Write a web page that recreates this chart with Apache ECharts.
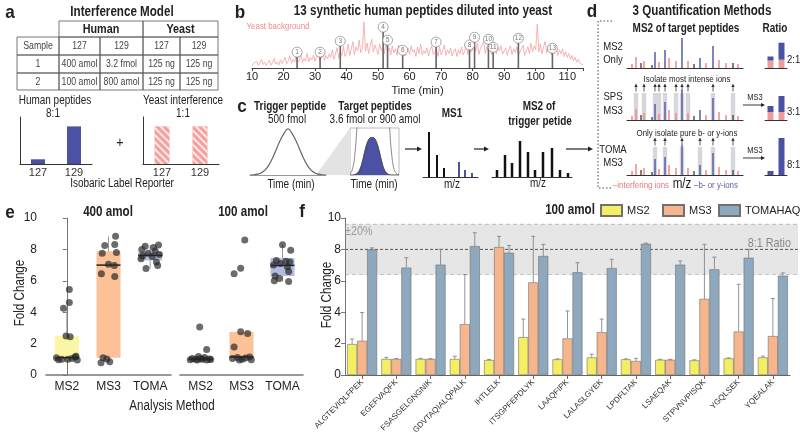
<!DOCTYPE html>
<html>
<head>
<meta charset="utf-8">
<script src="https://cdn.jsdelivr.net/npm/echarts@6.0.0/dist/echarts.min.js"></script>
<style>html,body{margin:0;padding:0;background:#fff;}#chart{width:800px;height:435px;}</style>
</head>
<body>
<div id="chart"></div>
<script>
// ================= DATA =================
// --- panel a ---
const tableHeader = ['Sample', '127', '129', '127', '129'];
const tableRow1 = ['1', '400 amol', '3.2 fmol', '125 ng', '125 ng'];
const tableRow2 = ['2', '100 amol', '800 amol', '125 ng', '125 ng'];
const reporterLabels = ['127', '129'];
const humanRatio = [1, 8];
const yeastRatio = [1, 1];

// --- panel b ---
const bgStart = 10, bgStep = 0.5;
const yeastBackground = [
  0.04,0.10,0.06,0.14,0.05,0.08,0.18,0.07,0.12,0.05,
  0.09,0.16,0.06,0.11,0.20,0.08,0.13,0.06,0.17,0.09,
  0.12,0.22,0.09,0.15,0.26,0.10,0.18,0.12,0.24,0.11,
  0.16,0.28,0.12,0.20,0.14,0.30,0.13,0.22,0.17,0.27,
  0.14,0.24,0.32,0.15,0.21,0.35,0.16,0.26,0.19,0.30,
  0.22,0.38,0.18,0.30,0.42,0.20,0.34,0.26,0.45,0.24,
  0.30,0.50,0.26,0.40,0.55,0.28,0.44,0.36,0.58,0.32,
  0.40,0.96,0.35,0.52,0.30,0.46,0.60,0.33,0.48,0.38,
  0.28,0.50,0.36,0.44,0.30,0.55,0.34,0.42,0.27,0.46,
  0.32,0.40,0.26,0.48,0.30,0.38,0.44,0.25,0.36,0.42,
  0.28,0.46,0.33,0.38,0.24,0.44,0.30,0.50,0.27,0.36,
  0.30,0.42,0.25,0.38,0.46,0.28,0.34,0.40,0.24,0.44,
  0.27,0.36,0.48,0.26,0.38,0.30,0.42,0.25,0.34,0.40,
  0.24,0.38,0.30,0.44,0.27,0.36,0.50,0.28,0.40,0.33,
  0.30,0.46,0.35,0.52,0.28,0.42,0.38,0.55,0.30,0.44,
  0.34,0.48,0.28,0.40,0.52,0.30,0.44,0.36,0.47,0.29,
  0.33,0.42,0.26,0.38,0.46,0.28,0.40,0.32,0.44,0.27,
  0.30,0.40,0.48,0.26,0.36,0.44,0.30,0.52,0.34,0.46,
  0.38,0.92,0.34,0.50,0.30,0.44,0.56,0.32,0.46,0.36,
  0.28,0.42,0.34,0.46,0.26,0.38,0.30,0.40,0.24,0.34,
  0.22,0.30,0.18,0.26,0.15,0.22,0.12,0.18,0.10,0.14,
  0.06
];
const peakTimes   = [24.3, 31.6, 38.0, 51.6, 53.0, 57.8, 68.4, 79.0, 80.6, 85.0, 86.5, 94.5, 105.3];
const peakHeights = [0.23, 0.23, 0.46, 0.75, 0.48, 0.27, 0.44, 0.38, 0.54, 0.50, 0.33, 0.52, 0.31];
const peakCircleLift = 0.1;

// --- panel c ---
const triggerShape = [0,0.005,0.02,0.05,0.11,0.22,0.38,0.57,0.76,0.91,1,0.91,0.76,0.57,0.38,0.22,0.11,0.05,0.02,0.005,0];
const targetShape  = [0,0,0.01,0.04,0.12,0.28,0.5,0.68,0.78,0.8,0.78,0.68,0.5,0.28,0.12,0.04,0.01,0,0,0,0];
const triggerZoomShape = [0.02,0.12,0.45,1.1,1.6,1.6,1.6,1.6,1.6,1.6,1.6,1.6,1.6,1.6,1.6,1.6,1.1,0.45,0.12,0.03,0];
const ms1Pos    = [6, 14, 21, 36, 42, 49];
const ms1Height = [45, 22, 9, 15, 7, 4];
const ms1Heavy  = [0, 0, 0, 1, 1, 1];
const ms2TrigPos    = [5, 13, 20, 28, 36, 43, 51, 60, 68, 76];
const ms2TrigHeight = [7, 22, 14, 36, 25, 7, 25, 29, 7, 4];

// --- panel d ---
const specPos    = [5, 9, 14, 17, 25, 28, 32, 38, 42, 49, 55, 61, 67, 73, 79, 86, 92, 99, 106, 111];
const specHeight = [4, 11, 5, 7, 3, 16, 6, 18, 10, 7, 30, 7, 4, 10, 5, 22, 8, 5, 5, 4];
const specType   = ['i','i','n','i','n','b','i','b','i','i','b','i','n','b','i','b','i','i','n','i'];
const spsWindows  = [9, 17, 28, 32, 38, 49, 55, 61, 86, 106];
const tomaWindows = [28, 38, 55, 73, 86, 106];
const ratioLabels = ['127', '129'];
const ratioMS2Yeast  = [7.5, 8.3];
const ratioMS2Human  = [4, 17];
const ratioSPSYeast  = [8, 8];
const ratioSPSHuman  = [6, 16];
const ratioTOMAYeast = [0, 0];
const ratioTOMAHuman = [4, 37];
const ratioText = ['2:1', '3:1', '8:1'];

// --- panel e ---
const methods = ['MS2', 'MS3', 'TOMA'];
const e400MS2  = [5.44, 4.62, 4.25, 2.48, 2.43, 1.15, 1.1, 1.05, 1.0, 1.0, 0.97, 0.95, 1.2];
const e400MS3  = [8.83, 8.32, 8.25, 7.8, 7.75, 7.05, 6.98, 6.45, 6.28, 1.1, 1.02, 0.78, 0.85];
const e400TOMA = [8.28, 8.2, 8.12, 8.0, 7.9, 7.75, 7.68, 7.6, 7.55, 7.4, 7.2, 6.98, 6.78];
const e100MS2  = [3.05, 1.62, 1.18, 1.12, 1.05, 1.02, 1.0, 1.0, 0.98, 0.97, 0.96, 0.95, 1.03];
const e100MS3  = [8.6, 6.8, 6.45, 2.75, 2.65, 1.78, 1.15, 1.12, 1.08, 1.05, 1.0, 0.97, 0.95];
const e100TOMA = [8.3, 7.95, 7.3, 7.25, 7.2, 7.1, 7.0, 6.9, 6.6, 6.3, 6.15, 6.0, 5.95];
const j400MS2  = [0.06, 0.06, -0.08, -0.02, 0.08, 0.2, -0.25, 0.12, -0.12, 0.02, -0.2, 0.25, 0.22];
const j400MS3  = [0.17, 0.15, -0.09, 0.19, -0.15, 0.0, 0.14, -0.17, 0.15, -0.13, -0.04, -0.18, 0.03];
const j400TOMA = [0.2, -0.12, 0.08, -0.2, 0.12, -0.05, 0.22, -0.18, 0.05, -0.22, 0.15, 0.18, -0.1];
const j100MS2  = [-0.02, 0.15, -0.05, 0.1, -0.2, 0.22, -0.12, 0.05, 0.25, -0.25, 0.15, -0.08, 0.0];
const j100MS3  = [0.08, -0.02, -0.18, -0.02, 0.15, -0.18, 0.2, -0.1, 0.1, -0.22, 0.02, 0.24, -0.05];
const j100TOMA = [0.0, 0.2, -0.15, 0.08, 0.18, -0.05, -0.22, 0.12, 0.15, -0.18, -0.08, -0.2, 0.15];
// [lower whisker, q1, median, q3, upper whisker]
const e400Box = [[0.95,0.95,1.1,2.5,4.25],[0.78,1.1,7.0,7.88,8.83],[6.78,7.3,7.62,7.85,8.28]];
const e100Box = [[0.95,0.97,1.0,1.05,1.18],[0.95,1.08,1.15,2.75,2.75],[5.95,6.3,6.98,7.45,8.3]];

// --- panel f ---
const peptides = ['ALGTEVIQLFPEK','EGEFVAQFK','FSASGELGNGNIK','GDVTAQIALQPALK','IHTLELK','ITSGPFEPDLYK','LAAQFIPK','LALASLGYEK','LPDFLTAK','LSAEQAK','STPVNVPISQK','YGQLSEK','YQEALAK'];
const fMS2   = [1.97, 1.02, 1.02, 1.02, 0.95, 2.41, 1.00, 1.12, 1.00, 0.97, 0.93, 1.06, 1.12];
const fMS2sd = [0.32, 0.10, 0.04, 0.18, 0.04, 1.15, 0.03, 0.21, 0.03, 0.03, 0.04, 0.03, 0.08];
const fMS3   = [2.18, 1.02, 1.02, 3.24, 8.15, 5.90, 2.33, 2.73, 0.89, 0.97, 4.85, 2.77, 2.48];
const fMS3sd = [1.80, 0.03, 0.02, 3.15, 0.68, 2.93, 1.75, 0.83, 0.17, 0.03, 3.47, 3.01, 2.39];
const fTOMA   = [8.00, 6.84, 7.03, 8.21, 7.79, 7.58, 6.54, 6.81, 8.36, 7.03, 6.73, 7.47, 6.33];
const fTOMAsd = [0.10, 0.63, 0.97, 0.85, 0.46, 0.74, 0.61, 0.56, 0.04, 0.23, 0.78, 0.53, 0.17];
const fSeriesNames = ['MS2', 'MS3', 'TOMAHAQ'];
const targetRatio = 8, tolerance = 0.2;
const yTicks = {min: 0, max: 10, interval: 2};

// ================= STYLE =================
const FONT = "'Liberation Sans', Arial, sans-serif";
const SX = 0.83;
const BLUE = '#4b51a3', PINK = '#f2a0a0';
const C_RED = '#ec8a8a', C_BIONS = '#5a5cab', C_DARK = '#555';
const F_COL = ['#f4ee62', '#f6b68d', '#8ea8be'];
const E_COL = ['#fbf6a6', '#fcc197', '#b3bde0'];

// ================= GRAPHIC HELPERS =================
const G = [];
function txt(x, y, text, size, o = {}) {
  G.push({
    type: 'text', x, y, scaleX: (o.sx === undefined ? SX : o.sx), rotation: o.rot || 0, z: 100,
    style: {
      x: 0, y: 0, text,
      font: (o.bold ? 'bold ' : '') + size + 'px ' + FONT,
      fill: o.color || '#222',
      align: o.align || 'center', textAlign: o.align || 'center',
      verticalAlign: 'middle', textVerticalAlign: 'middle'
    }
  });
}
function arrow(x1, y1, x2, y2, color, head, lw) {
  color = color || '#222'; head = head || 5; lw = lw || 1.2;
  const ang = Math.atan2(y2 - y1, x2 - x1);
  const hx = x2 - head * Math.cos(ang), hy = y2 - head * Math.sin(ang);
  const px = -Math.sin(ang) * head * 0.5, py = Math.cos(ang) * head * 0.5;
  G.push({type: 'line', z: 50, shape: {x1, y1, x2: hx, y2: hy}, style: {stroke: color, lineWidth: lw}});
  G.push({type: 'polygon', z: 50, shape: {points: [[x2, y2], [hx + px, hy + py], [hx - px, hy - py]]}, style: {fill: color}});
}

// ---- panel letters & titles ----
[['a', 10, 13], ['b', 240, 13], ['c', 242, 107], ['d', 592, 12], ['e', 10, 213], ['f', 302, 212]]
  .forEach(([t, x, y]) => txt(x, y, t, 19, {bold: true, sx: 0.9}));
txt(122, 12, 'Interference Model', 14, {bold: true});
txt(423, 11, '13 synthetic human peptides diluted into yeast', 14, {bold: true});
txt(702, 11, '3 Quantification Methods', 14, {bold: true});

// ---- panel a table ----
const colX = [17, 59, 100, 143, 180, 218];
const rowY = [21, 37, 55, 73, 90];
const cellStroke = '#555';
G.push({type: 'rect', z: 40, shape: {x: colX[1], y: rowY[0], width: colX[3] - colX[1], height: rowY[1] - rowY[0]}, style: {fill: null, stroke: cellStroke, lineWidth: 0.8}});
G.push({type: 'rect', z: 40, shape: {x: colX[3], y: rowY[0], width: colX[5] - colX[3], height: rowY[1] - rowY[0]}, style: {fill: null, stroke: cellStroke, lineWidth: 0.8}});
txt((colX[1] + colX[3]) / 2, (rowY[0] + rowY[1]) / 2 + 0.5, 'Human', 13, {bold: true});
txt((colX[3] + colX[5]) / 2, (rowY[0] + rowY[1]) / 2 + 0.5, 'Yeast', 13, {bold: true});
[tableHeader, tableRow1, tableRow2].forEach((row, r) => {
  row.forEach((cell, c) => {
    G.push({type: 'rect', z: 40, shape: {x: colX[c], y: rowY[r + 1], width: colX[c + 1] - colX[c], height: rowY[r + 2] - rowY[r + 1]}, style: {fill: null, stroke: cellStroke, lineWidth: 0.8}});
    txt((colX[c] + colX[c + 1]) / 2, (rowY[r + 1] + rowY[r + 2]) / 2 + 0.5, cell, 10.5, {color: '#444'});
  });
});
txt(55, 101, 'Human peptides', 12);
txt(53, 114, '8:1', 12);
txt(183, 101, 'Yeast interference', 12);
txt(183, 114, '1:1', 12);
txt(120, 143, '+', 15);
txt(122, 184, 'Isobaric Label Reporter', 12);

// ---- panel b ----
txt(278, 26, 'Yeast background', 9.5, {color: '#f08a8a'});

// ---- panel c ----
txt(290, 107, 'Trigger peptide', 12, {bold: true});
txt(287, 120, '500 fmol', 12);
txt(375, 107, 'Target peptides', 12, {bold: true});
txt(375, 120, '3.6 fmol or 900 amol', 12);
txt(452, 114, 'MS1', 12, {bold: true});
txt(539, 107, 'MS2 of', 12, {bold: true});
txt(540, 122, 'trigger petide', 12, {bold: true});
txt(291, 185, 'Time (min)', 12);
txt(374, 185, 'Time (min)', 12);
txt(452, 185, 'm/z', 12);
txt(538, 184, 'm/z', 12);
G.push({type: 'polygon', z: 5, shape: {points: [[316, 175], [350, 128], [350, 175]]}, style: {fill: '#e3e3e3'}});
arrow(405, 149, 422, 149);
arrow(474, 149, 489, 149);
arrow(566, 149, 593, 149);

// ---- panel d ----
G.push({type: 'polyline', z: 50, shape: {points: [[612, 21], [598, 21], [598, 188], [612, 188]]}, style: {stroke: '#444', lineWidth: 1, lineDash: [1.5, 2], fill: null}});
txt(686, 29, 'MS2 of target peptides', 12, {bold: true});
txt(775, 29, 'Ratio', 12, {bold: true});
txt(613, 47, 'MS2', 11.5); txt(613, 60, 'Only', 11.5);
txt(613, 97, 'SPS', 11.5); txt(613, 111, 'MS3', 11.5);
txt(613, 150, 'TOMA', 11.5); txt(613, 163, 'MS3', 11.5);
txt(687, 79, 'Isolate most intense ions', 9.5);
txt(687, 133, 'Only isolate pure b- or y-ions', 9.5);
txt(641, 185, '–interfering ions', 9.5, {color: '#e87878'});
txt(682, 184, 'm/z', 14);
txt(716, 185, '–b- or y-ions', 9.5, {color: C_BIONS});
txt(755, 98, 'MS3', 9);
arrow(743, 105, 765, 105, '#222', 4, 0.9);
txt(755, 151, 'MS3', 9);
arrow(743, 158, 765, 158, '#222', 4, 0.9);
txt(787, 60, ratioText[0], 11.5, {align: 'left'});
txt(787, 112, ratioText[1], 11.5, {align: 'left'});
txt(787, 165, ratioText[2], 11.5, {align: 'left'});

// ---- panel e/f ----
txt(108, 212, '400 amol', 14, {bold: true});
txt(243, 212, '100 amol', 14, {bold: true});
txt(570, 210, '100 amol', 14, {bold: true});
txt(20, 293, 'Fold Change', 14, {rot: Math.PI / 2});
txt(327, 295, 'Fold Change', 14, {rot: Math.PI / 2});
txt(172, 406, 'Analysis Method', 14);
txt(345, 231, '±20%', 13, {color: '#9a9a9a', align: 'left'});
txt(791, 243, '8:1 Ratio', 13, {color: '#888', align: 'right'});

// ================= GRIDS & AXES =================
const grids = [
  {left: 20, top: 117, width: 72, height: 47},   // 0 a human
  {left: 143, top: 117, width: 76, height: 47},  // 1 a yeast
  {left: 252, top: 20, width: 331, height: 48},  // 2 b
  {left: 250, top: 128, width: 76, height: 47},  // 3 c trigger
  {left: 350, top: 128, width: 49, height: 47, show: true, borderColor: '#bbb', borderWidth: 1}, // 4 c target
  {left: 423, top: 128, width: 55, height: 49},  // 5 c ms1
  {left: 492, top: 128, width: 80, height: 49},  // 6 c ms2 trigger
  {left: 627, top: 28, width: 116, height: 40},  // 7 d row1
  {left: 627, top: 80, width: 116, height: 40},  // 8 d row2
  {left: 627, top: 135, width: 116, height: 40}, // 9 d row3
  {left: 765, top: 28, width: 22, height: 40},   // 10 ratio1
  {left: 765, top: 80, width: 22, height: 40},   // 11 ratio2
  {left: 765, top: 135, width: 22, height: 40},  // 12 ratio3
  {left: 46, top: 218, width: 125, height: 157}, // 13 e left
  {left: 180, top: 218, width: 123, height: 157},// 14 e right
  {left: 345, top: 218, width: 445, height: 157} // 15 f
].map(g => Object.assign({containLabel: false, outerBoundsMode: 'none'}, g));

function baseX(gi, min, max, color) {
  return {gridIndex: gi, type: 'value', min, max, axisLine: {show: true, onZero: false, lineStyle: {color: color || '#333', width: 1}},
    axisTick: {show: false}, axisLabel: {show: false}, splitLine: {show: false}};
}
function hidX(gi, min, max) { return {gridIndex: gi, type: 'value', min, max, show: false}; }
function hidY(gi, min, max) { return {gridIndex: gi, type: 'value', min, max, show: false}; }
function catX(gi, data, labels) {
  return {gridIndex: gi, type: 'category', data, axisLine: {lineStyle: {color: '#333'}}, axisTick: {show: false},
    axisLabel: labels ? {fontSize: 11, margin: 3, color: '#333', fontFamily: FONT, interval: 0} : {show: false}, splitLine: {show: false}};
}
function leftY(gi, max) {
  return {gridIndex: gi, type: 'value', min: 0, max, axisLine: {show: true, lineStyle: {color: '#333'}}, axisTick: {show: false},
    axisLabel: {show: false}, splitLine: {show: false}};
}
const eX = gi => ({gridIndex: gi, type: 'category', data: methods,
  axisLine: {lineStyle: {color: '#777', width: 1.5}}, axisTick: {show: false},
  axisLabel: {fontSize: 12, color: '#222', margin: 6, fontFamily: FONT, interval: 0}, splitLine: {show: false}});
const valY = (gi, extra) => Object.assign({gridIndex: gi, type: 'value', min: yTicks.min, max: yTicks.max, interval: yTicks.interval,
  axisLine: {show: true, lineStyle: {color: '#777', width: 1}}, axisTick: {show: true, length: 4, lineStyle: {color: '#777'}},
  axisLabel: {fontSize: 12, color: '#222', margin: 4, fontFamily: FONT}, splitLine: {show: false}}, extra || {});

const xAxes = [
  catX(0, reporterLabels, true),
  catX(1, reporterLabels, true),
  {gridIndex: 2, type: 'value', min: 10, max: 115, interval: 10,
    axisLine: {show: true, lineStyle: {color: '#444'}}, axisTick: {show: true, length: 3, lineStyle: {color: '#444'}},
    axisLabel: {fontSize: 11, color: '#222', margin: 3, fontFamily: FONT, formatter: v => (v % 10 === 0 ? String(v) : '')},
    splitLine: {show: false}, name: 'Time (min)', nameLocation: 'middle', nameGap: 17,
    nameTextStyle: {fontSize: 11, color: '#222', fontFamily: FONT}},
  baseX(3, 0, 20, '#999'),
  hidX(4, 0, 20),
  baseX(5, 0, 55),
  baseX(6, 0, 80),
  baseX(7, 0, 116),
  baseX(8, 0, 116),
  baseX(9, 0, 116),
  catX(10, ratioLabels, false),
  catX(11, ratioLabels, false),
  catX(12, ratioLabels, false),
  eX(13),
  eX(14),
  {gridIndex: 15, type: 'category', data: peptides,
    axisLine: {lineStyle: {color: '#666', width: 1.2}}, axisTick: {show: true, alignWithLabel: true, length: 4, lineStyle: {color: '#666'}},
    axisLabel: {interval: 0, rotate: 45, fontSize: 8, color: '#333', margin: 6, fontFamily: FONT}, splitLine: {show: false}},
  hidX(13, -0.5, 2.5),
  hidX(14, -0.5, 2.5)
];
const yAxes = [
  leftY(0, 10),
  leftY(1, 1.25),
  hidY(2, 0, 1),
  hidY(3, 0, 1.02),
  hidY(4, 0, 1),
  hidY(5, 0, 49),
  hidY(6, 0, 49),
  hidY(7, 0, 40),
  hidY(8, 0, 40),
  hidY(9, 0, 40),
  hidY(10, 0, 40),
  hidY(11, 0, 40),
  hidY(12, 0, 40),
  valY(13, {offset: 5}),
  hidY(14, 0, 10),
  valY(15)
];

// ================= SERIES =================
const S = [];
// a
S.push({type: 'bar', xAxisIndex: 0, yAxisIndex: 0, data: humanRatio, barWidth: 14, itemStyle: {color: BLUE}});
S.push({type: 'bar', xAxisIndex: 1, yAxisIndex: 1, data: yeastRatio, barWidth: 15,
  itemStyle: {color: PINK, decal: {symbol: 'rect', symbolSize: 1, color: 'rgba(255,255,255,0.75)', dashArrayX: [1, 0], dashArrayY: [2, 3], rotation: Math.PI / 4}}});
// b
S.push({type: 'line', xAxisIndex: 2, yAxisIndex: 2, data: yeastBackground.map((v, i) => [bgStart + i * bgStep, v]),
  symbol: 'none', lineStyle: {color: '#f3a3a3', width: 0.8}, z: 1, silent: true});
S.push({type: 'bar', xAxisIndex: 2, yAxisIndex: 2, data: peakTimes.map((t, i) => [t, peakHeights[i]]), barWidth: 1.6,
  itemStyle: {color: '#666'}, z: 3});
S.push({type: 'scatter', xAxisIndex: 2, yAxisIndex: 2, data: peakTimes.map((t, i) => [t, peakHeights[i] + peakCircleLift]),
  symbol: 'circle', symbolSize: 10, itemStyle: {color: '#fff', borderColor: '#777', borderWidth: 0.8}, z: 4,
  label: {show: true, position: 'inside', formatter: p => String(p.dataIndex + 1), fontSize: 6.5, color: '#555'}});
// c
S.push({type: 'line', xAxisIndex: 3, yAxisIndex: 3, data: triggerShape.map((v, i) => [i, v]), smooth: true, symbol: 'none',
  lineStyle: {color: '#666', width: 1.2}, z: 6});
S.push({type: 'line', xAxisIndex: 4, yAxisIndex: 4, data: triggerZoomShape.map((v, i) => [i, v]), smooth: true, symbol: 'none',
  lineStyle: {color: '#888', width: 1}, clip: true});
S.push({type: 'line', xAxisIndex: 4, yAxisIndex: 4, data: targetShape.map((v, i) => [i, v]), smooth: true, symbol: 'none',
  lineStyle: {color: '#333', width: 0.8}, areaStyle: {color: BLUE, opacity: 1}});
S.push({type: 'bar', xAxisIndex: 5, yAxisIndex: 5, barWidth: 2,
  data: ms1Pos.map((p, i) => ({value: [p, ms1Height[i]], itemStyle: {color: ms1Heavy[i] ? BLUE : '#111'}}))});
S.push({type: 'bar', xAxisIndex: 6, yAxisIndex: 6, barWidth: 2.5, itemStyle: {color: '#111'},
  data: ms2TrigPos.map((p, i) => [p, ms2TrigHeight[i]])});
// d windows
function windowRender(params, api) {
  const base = api.coord([api.value(0), 0]);
  const top = api.coord([api.value(0), api.value(1)]);
  const x = base[0], t = top[1];
  return {type: 'group', children: [
    {type: 'rect', shape: {x: x - 2.2, y: t, width: 4.4, height: base[1] - t}, style: {fill: '#d6d6dc'}},
    {type: 'line', shape: {x1: x, y1: t - 1.5, x2: x, y2: t - 7}, style: {stroke: '#333', lineWidth: 0.8}},
    {type: 'polygon', shape: {points: [[x, t - 9.5], [x - 1.7, t - 6], [x + 1.7, t - 6]]}, style: {fill: '#333'}}
  ]};
}
S.push({type: 'custom', xAxisIndex: 8, yAxisIndex: 8, data: spsWindows.map(p => [p, 27]), encode: {x: 0, y: 1}, renderItem: windowRender, z: 1, clip: false});
S.push({type: 'custom', xAxisIndex: 9, yAxisIndex: 9, data: tomaWindows.map(p => [p, 28]), encode: {x: 0, y: 1}, renderItem: windowRender, z: 1, clip: false});
const specColor = {i: C_RED, b: C_BIONS, n: C_DARK};
[7, 8, 9].forEach(gi => {
  S.push({type: 'bar', xAxisIndex: gi, yAxisIndex: gi, barWidth: 1.5, z: 3,
    data: specPos.map((p, i) => ({value: [p, specHeight[i]], itemStyle: {color: specColor[specType[i]]}}))});
});
[[10, ratioMS2Yeast, ratioMS2Human], [11, ratioSPSYeast, ratioSPSHuman], [12, ratioTOMAYeast, ratioTOMAHuman]].forEach(([gi, y, h]) => {
  S.push({type: 'bar', xAxisIndex: gi, yAxisIndex: gi, stack: 'r' + gi, barWidth: 6, data: y, itemStyle: {color: '#ef9b9b'}});
  S.push({type: 'bar', xAxisIndex: gi, yAxisIndex: gi, stack: 'r' + gi, barWidth: 6, data: h, itemStyle: {color: BLUE}});
});
// e
function boxRender(params, api) {
  const i = api.value(0);
  const x = api.coord([i, 0])[0];
  const hw = 12;
  const y = v => api.coord([i, v])[1];
  const lo = y(api.value(1)), q1 = y(api.value(2)), md = y(api.value(3)), q3 = y(api.value(4)), hi = y(api.value(5));
  return {type: 'group', children: [
    {type: 'line', shape: {x1: x, y1: lo, x2: x, y2: hi}, style: {stroke: '#999', lineWidth: 1}},
    {type: 'rect', shape: {x: x - hw, y: q3, width: 2 * hw, height: Math.max(q1 - q3, 1)}, style: {fill: E_COL[i]}},
    {type: 'line', shape: {x1: x - hw, y1: md, x2: x + hw, y2: md}, style: {stroke: '#222', lineWidth: 1.5}}
  ]};
}
[[13, e400Box], [14, e100Box]].forEach(([gi, box]) => {
  S.push({type: 'custom', xAxisIndex: gi, yAxisIndex: gi, renderItem: boxRender, z: 2,
    encode: {x: 0, y: [1, 2, 3, 4, 5]}, data: box.map((b, i) => [i].concat(b))});
});
function pts(vals, jit, idx) { return vals.map((v, k) => [idx + jit[k], v]); }
[[16, 13, [[e400MS2, j400MS2], [e400MS3, j400MS3], [e400TOMA, j400TOMA]]],
 [17, 14, [[e100MS2, j100MS2], [e100MS3, j100MS3], [e100TOMA, j100TOMA]]]].forEach(([xi, yi, groups]) => {
  const data = [];
  groups.forEach((g, idx) => data.push(...pts(g[0], g[1], idx)));
  S.push({type: 'scatter', xAxisIndex: xi, yAxisIndex: yi, data, symbolSize: 7, z: 5,
    itemStyle: {color: 'rgba(38,38,38,0.85)'}});
});
// f band
S.push({type: 'custom', xAxisIndex: 15, yAxisIndex: 15, z: 0, clip: false, silent: true,
  encode: {x: 0, y: [1, 2, 3]},
  data: [[0, targetRatio, targetRatio * (1 - tolerance), targetRatio * (1 + tolerance)]],
  renderItem: (params, api) => {
    const cs = params.coordSys;
    const yMid = api.coord([0, api.value(1)])[1];
    const yLo = api.coord([0, api.value(2)])[1];
    const yHi = api.coord([0, api.value(3)])[1];
    const x0 = cs.x, x1 = cs.x + cs.width + 8;
    return {type: 'group', children: [
      {type: 'rect', shape: {x: x0, y: yHi, width: x1 - x0, height: yLo - yHi}, style: {fill: '#e6e6e6'}},
      {type: 'line', shape: {x1: x0, y1: yHi, x2: x1, y2: yHi}, style: {stroke: '#c4c4c4', lineWidth: 1.2, lineDash: [4, 3]}},
      {type: 'line', shape: {x1: x0, y1: yLo, x2: x1, y2: yLo}, style: {stroke: '#c4c4c4', lineWidth: 1.2, lineDash: [4, 3]}},
      {type: 'line', shape: {x1: x0, y1: yMid, x2: x1, y2: yMid}, style: {stroke: '#555', lineWidth: 1, lineDash: [3, 2]}}
    ]};
  }});
// f bars
[fMS2, fMS3, fTOMA].forEach((vals, k) => {
  S.push({type: 'bar', name: fSeriesNames[k], xAxisIndex: 15, yAxisIndex: 15, data: vals, barWidth: 10, barGap: '0%', z: 2,
    itemStyle: {color: F_COL[k], borderColor: '#707070', borderWidth: 0.6}});
});
function errRender(offset) {
  return (params, api) => {
    const i = api.value(0);
    const p0 = api.coord([i, api.value(1)]);
    const p1 = api.coord([i, api.value(2)]);
    const x = p0[0] + offset;
    return {type: 'group', children: [
      {type: 'line', shape: {x1: x, y1: p0[1], x2: x, y2: p1[1]}, style: {stroke: '#7a7a7a', lineWidth: 0.8}},
      {type: 'line', shape: {x1: x - 2, y1: p1[1], x2: x + 2, y2: p1[1]}, style: {stroke: '#7a7a7a', lineWidth: 0.8}}
    ]};
  };
}
[[fMS2, fMS2sd, -10], [fMS3, fMS3sd, 0], [fTOMA, fTOMAsd, 10]].forEach(([m, sd, off]) => {
  S.push({type: 'custom', xAxisIndex: 15, yAxisIndex: 15, z: 3, clip: false, encode: {x: 0, y: [1, 2]},
    data: m.map((v, i) => [i, v, v + sd[i]]), renderItem: errRender(off)});
});

const legendLeft = [600, 662, 718];
const legends = fSeriesNames.map((n, k) => ({data: [n], left: legendLeft[k], top: 204, orient: 'horizontal',
  itemWidth: 21, itemHeight: 11, icon: 'rect', padding: 0,
  textStyle: {fontSize: 11, color: '#222', fontFamily: FONT}}));

const chart = echarts.init(document.getElementById('chart'), null, {renderer: 'canvas'});
chart.setOption({
  animation: false,
  backgroundColor: '#fff',
  textStyle: {fontFamily: FONT},
  grid: grids,
  xAxis: xAxes,
  yAxis: yAxes,
  legend: legends,
  graphic: {elements: G},
  series: S
});
</script>
</body>
</html>
